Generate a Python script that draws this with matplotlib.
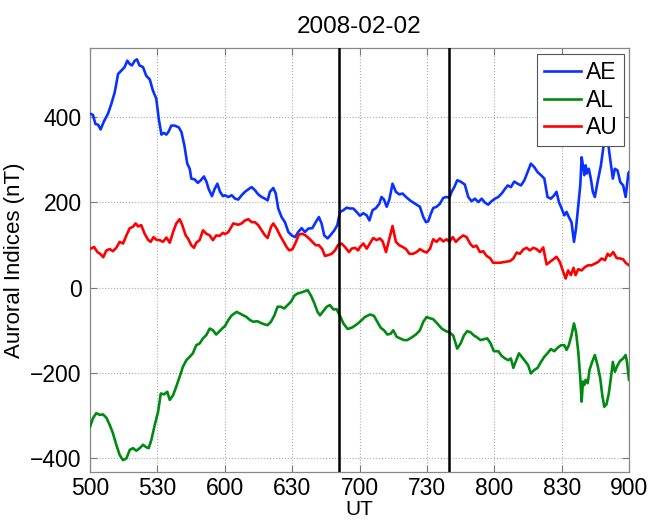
import numpy as np
import matplotlib
matplotlib.use("Agg")
import matplotlib.pyplot as plt

plt.rcParams['font.family'] = ['Liberation Sans', 'DejaVu Sans']

# minutes after 05:00 UT, values in nT
t_ae = [0, 1.3, 2.4, 3.6, 4.7, 6.2, 8, 9.5, 11, 12.5, 14, 15.4, 16.6, 17.7, 18.7, 19.9, 20.9, 22, 23.6, 25,
        26.6, 28, 29.5, 30.6, 31.8, 32.9, 34, 35, 36.2, 37.7, 39.5, 40.7, 42, 43.3, 44.4, 45.1, 46.6, 48, 49.3,
        50.7, 51.9, 52.8, 54.3, 55.5, 56.7, 57.9, 59.2, 60.1, 61.6, 63.1, 64.6, 66, 67.5, 69, 70.5, 72, 73.4,
        74.9, 76.4, 77.9, 79.1, 80.1, 81.6, 82.7, 83.8, 85.3, 86.8, 88.3, 89.8, 91.3, 92.7, 94.2, 95.7, 97.2,
        99, 100.5, 101.9, 103.1, 104.3, 105.8, 107.3, 108.8, 110.1, 111.3, 112.8, 114.3, 115.7, 117.2, 118.7,
        120.2, 121.7, 123.2, 124.4, 125.8, 127.3, 128.8, 129.8, 130.9, 132.1, 133.3, 134.7, 136.2, 137.7,
        139.2, 140.7, 142.5, 143.9, 145.4, 146.9, 148.4, 149.6, 150.6, 151.7, 152.8, 154.3, 155.8, 157.3,
        158.8, 160, 161, 162.2, 163.5, 165, 166.9, 168.4, 169.9, 171.4, 172.9, 174.4, 175.8, 177.3, 178.8,
        180.3, 181.8, 183.3, 184.8, 186, 187.4, 188.9, 190.4, 191.9, 193.4, 194.8, 196.3, 197.8, 199.3,
        200.8, 202.3, 203.7, 205.2, 206.7, 207.7, 208.8, 210, 211.2, 212.2, 213.2, 214.4, 215.5, 216.4,
        217.4, 218.3, 218.9, 219.5, 220.1, 220.7, 221.2, 222.1, 223, 223.9, 224.8, 226, 227.5, 228.7, 229.6,
        230.5, 231.2, 232, 232.8, 233.7, 234.9, 236.1, 237.4, 238.5, 239.7, 240]
ae = [407, 404, 383, 381, 370, 389, 407, 430, 457, 500, 508, 516, 531, 523, 520, 531, 534, 520, 516, 496,
      487, 461, 442, 395, 358, 362, 358, 365, 379, 379, 375, 364, 333, 290, 278, 255, 253, 245, 251,
      260, 247, 231, 214, 231, 243, 224, 214, 216, 212, 216, 208, 206, 216, 224, 230, 235, 228,
      218, 212, 208, 204, 224, 233, 220, 185, 165, 153, 130, 122, 118, 130, 139, 130, 138,
      139, 153, 165, 150, 122, 115, 124, 134, 146, 177, 181, 187, 185, 185, 177,
      168, 174, 169, 157, 181, 186, 196, 212, 206, 189, 206, 243, 224, 218,
      220, 212, 204, 199, 194, 189, 165, 153, 155, 172, 186, 189, 196, 210,
      212, 210, 224, 235, 251, 248, 241, 212, 202, 208, 200, 208, 199, 194, 202,
      208, 212, 220, 231, 239, 235, 248, 243, 239, 251, 270, 290, 282, 270,
      263, 255, 212, 208, 216, 224, 200, 185, 169, 177, 165, 153, 107, 138,
      192, 239, 305, 286, 263, 286, 267, 278, 255, 224, 212, 247, 286, 333, 390,
      352, 317, 286, 255, 278, 274, 247, 239, 212, 267, 270]

t_au = [0, 1.8, 3.3, 4.5, 5.9, 7.3, 8.8, 10.2, 11.7, 13.2, 14.7, 16.2, 17.7, 19.1, 20.3, 21.4, 22.8, 24.3,
        25.8, 27, 28.3, 29.5, 31, 32.5, 34, 35.5, 37, 38.4, 39.9, 41.1, 42.6, 43.6, 45.1, 46.3, 47.3, 48.8,
        50.3, 51.8, 53.3, 54.7, 56.2, 57.7, 59.2, 60.1, 61.6, 63.8, 66, 67.5, 69, 70.5, 72, 73.4, 74.9, 76.4,
        77.9, 79.1, 80.6, 81.6, 83.1, 84.6, 86.1, 87.5, 88.7, 90.2, 91.7, 93, 94.5, 96, 97.5, 99, 100.5,
        101.9, 103.4, 104.6, 106.1, 107.6, 109.1, 110.5, 112, 113.5, 115.3, 116.5, 118, 119.4, 120.2, 121.7,
        123.2, 124.6, 126.1, 127.6, 129.1, 130.3, 131.8, 133.3, 134.7, 136.2, 137.7, 139.2, 140.7, 142.2,
        143.9, 145.4, 146.9, 148.4, 149.9, 151.4, 152.8, 154.3, 155.8, 157.3, 158.8, 160, 161.5, 162.9,
        164.4, 166.2, 167.7, 169.2, 170.6, 172.1, 173.6, 175.1, 176.6, 178.1, 179.5, 181, 182.5, 184.8, 187,
        188.5, 190, 191.4, 192.9, 194.4, 195.9, 197.4, 198.8, 200.3, 201.8, 203.3, 204.8, 206.3, 207.7,
        209.2, 210.7, 211.8, 212.9, 214.1, 215.3, 216.2, 217.4, 218.9, 220.4, 221.8, 223.3, 224.8, 226.3,
        227.8, 229.3, 230.5, 231.5, 233, 234.5, 236, 237.4, 238.5, 240]
au = [90, 95, 83, 79, 71, 87, 90, 85, 93, 107, 103, 122, 139, 142, 150, 143, 146, 126,
      112, 107, 118, 112, 111, 107, 117, 105, 130, 150, 160, 146, 122, 115, 99, 93, 105, 111,
      134, 126, 122, 111, 122, 121, 128, 125, 130, 150, 147, 150, 157, 160, 153, 153, 146, 134,
      122, 116, 142, 150, 138, 122, 108, 95, 87, 90, 107, 124, 126, 122, 115, 107, 99,
      99, 90, 74, 76, 79, 87, 100, 103, 95, 83, 91, 93, 87, 95, 103,
      91, 103, 116, 111, 115, 108, 83, 115, 144, 107, 99, 95, 90, 79,
      79, 83, 90, 85, 82, 91, 113, 107, 115, 108, 113, 107, 118, 107,
      115, 122, 118, 103, 95, 98, 83, 85, 74, 69, 58, 58, 58, 60, 62,
      68, 82, 79, 89, 93, 87, 93, 90, 83, 94, 54, 60, 66, 72,
      60, 37, 21, 40, 29, 46, 29, 43, 40, 48, 52, 52, 56, 60,
      68, 64, 79, 74, 83, 69, 68, 66, 58, 52]

t_al = [0, 1.3, 2.8, 4.3, 5.8, 7.3, 8.8, 10.2, 11.7, 13.2, 14.7, 16.2, 17.7, 19.1, 20.6, 22.1, 23.6, 25.1,
        26.1, 27.3, 28.8, 30.3, 31.5, 33, 34.4, 35.5, 37, 38.4, 39.9, 41.4, 42.9, 44.4, 45.8, 47.3, 48.8,
        50.3, 51.8, 53.3, 54.7, 56.2, 57.7, 59.2, 60.1, 61.6, 63.1, 65.3, 67.5, 69.7, 71.2, 72.7, 74.6, 76.1,
        77.6, 79.1, 80.6, 82.1, 83.5, 85, 86.5, 88, 89.5, 91, 92.4, 93.9, 95.4, 96.9, 98.4, 99.9, 101.3,
        102.4, 103.9, 105.4, 106.8, 108.3, 109.8, 111.3, 112.8, 114.7, 116.5, 118.3, 120.2, 122.4, 124.7,
        126.4, 127.9, 129.4, 130.9, 132.4, 133.9, 135, 136.5, 138, 139.8, 141.3, 143.2, 145.1, 146.9, 148.4,
        149.9, 151.4, 152.8, 154.6, 156.6, 158.5, 160, 161.7, 163.5, 165, 166.5, 168, 169.5, 170.9, 172.4,
        173.9, 175.4, 176.9, 178.4, 179.8, 181.8, 183.3, 184.8, 186.2, 187.4, 188.5, 189.5, 191, 192.5, 194,
        195.1, 196.3, 197.8, 199.3, 200.8, 202.3, 203.7, 205.2, 206.7, 208.2, 209.7, 211.2, 212.2, 213.2,
        214.4, 215.5, 216.4, 217.4, 218.3, 218.9, 219.5, 220.1, 220.7, 221.6, 222.4, 223.6, 224.8, 226,
        227.2, 228.1, 229, 230, 231, 231.9, 232.8, 233.7, 234.9, 236, 237.4, 238.5, 239.1, 240]
al = [-326, -306, -294, -298, -297, -305, -322, -341, -368, -392, -404, -400, -380, -376, -382, -376, -368, -374,
      -376, -357, -322, -291, -248, -250, -244, -263, -252, -232, -209, -185, -170, -162, -154, -135, -131,
      -119, -111, -96, -100, -110, -102, -94, -90, -76, -65, -57, -63, -69, -76, -80, -79, -83,
      -86, -88, -80, -65, -45, -45, -49, -41, -33, -19, -14, -12, -9, -6, -19, -37, -57,
      -65, -55, -45, -41, -51, -51, -66, -84, -97, -94, -88, -80, -69, -63,
      -66, -80, -94, -100, -110, -108, -100, -115, -119, -123, -123, -117, -110, -100, -80,
      -69, -72, -74, -84, -96, -102, -105, -112, -143, -131, -112, -102, -105, -112, -117,
      -123, -121, -119, -131, -149, -149, -160, -166, -170, -166, -188, -174, -154, -164, -174,
      -182, -201, -193, -188, -174, -162, -154, -144, -149, -141, -135, -135, -146, -135,
      -111, -84, -104, -150, -212, -267, -220, -228, -216, -224, -193, -174, -158, -182,
      -213, -252, -279, -273, -248, -213, -174, -197, -182, -172, -166, -158, -174, -216]

# event markers (minutes after 05:00)
t_marks = [111, 160]

tick_min = [0, 30, 60, 90, 120, 150, 180, 210, 240]
tick_lbl = ['500', '530', '600', '630', '700', '730', '800', '830', '900']
ytick_vals = [-400, -200, 0, 200, 400]

fig = plt.figure(figsize=(6.5, 5.22), dpi=100)
ax = fig.add_axes([0.1385, 0.0964, 0.8292, 0.8111])

ax.plot(t_ae, ae, color='#0a32ff', lw=1.9, label='AE', zorder=3)
ax.plot(t_al, al, color='#008a12', lw=1.9, label='AL', zorder=3)
ax.plot(t_au, au, color='#ff0000', lw=1.9, label='AU', zorder=3)
for tm in t_marks:
    ax.axvline(tm, color='black', lw=1.8, zorder=4)

ax.set_xlim(0, 240)
ax.set_ylim(-431, 560)
ax.set_xticks(tick_min)
ax.set_xticklabels(tick_lbl)
ax.set_yticks(ytick_vals)
ax.grid(True, linestyle=':', color='#aaaaaa', lw=0.8)
ax.tick_params(direction='in', top=True, right=True, length=5, labelsize=16.5,
               color='#777777', pad=6)
ax.tick_params(axis='x', pad=4)
for s in ax.spines.values():
    s.set_color('#888888')
    s.set_linewidth(0.9)

ax.set_xlabel('UT', fontsize=15, labelpad=0)
ax.set_ylabel('Auroral Indices (nT)', fontsize=16, labelpad=4)
ax.set_title('2008-02-02', fontsize=17.5, pad=11)

leg = ax.legend(loc='upper right', bbox_to_anchor=(0.991, 0.986), borderaxespad=0,
                fontsize=16.5, fancybox=False, framealpha=1, edgecolor='#555555',
                handlelength=1.6, handletextpad=0.2, labelspacing=0.2, borderpad=0.3)
leg.get_frame().set_linewidth(0.8)
leg.set_zorder(5)

fig.savefig('out.png', dpi=100)
